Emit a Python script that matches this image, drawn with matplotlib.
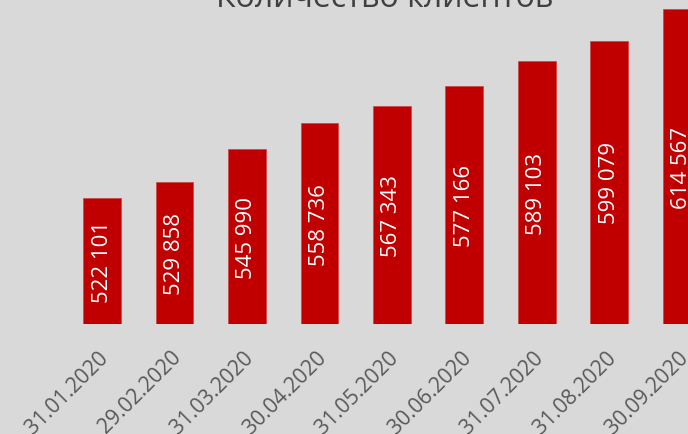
import matplotlib.pyplot as plt
import matplotlib.transforms as mtransforms

dates = ["31.01.2020", "29.02.2020", "31.03.2020", "30.04.2020", "31.05.2020",
         "30.06.2020", "31.07.2020", "31.08.2020", "30.09.2020"]
clients = [522101, 529858, 545990, 558736, 567343, 577166, 589103, 599079, 614567]
title = "Количество клиентов"

bg = "#d9d9d9"
red = "#c00000"

plt.rcParams['font.family'] = ['Open Sans', 'DejaVu Sans']

fig = plt.figure(figsize=(6.88, 4.35), dpi=100, facecolor=bg)
# chart is cropped on the right and top: the axes run past the figure edges
ax = fig.add_axes([0, 110 / 435, 1, 325 / 435])
ax.set_facecolor(bg)

x = list(range(len(dates)))
ax.bar(x, clients, width=0.524, color=red, edgecolor="#d04040", linewidth=0.5)
ax.set_xlim(-1.407, 8.083)
ax.set_ylim(460500, 619500)

for i, v in enumerate(clients):
    label = f"{v:,}".replace(",", " ")
    ax.text(i, (460500 + v) / 2, label, rotation=90, ha="center", va="center",
            color="white", fontsize=16, clip_on=True)

ax.set_xticks(x)
ax.set_xticklabels(dates, rotation=45, ha="right", rotation_mode="anchor",
                   color="#595959", fontsize=15.2)
ax.tick_params(axis="x", length=0, pad=16)
# nudge the date labels a little to the left
shift = mtransforms.ScaledTranslation(-4 / 100, 0, fig.dpi_scale_trans)
for lbl in ax.get_xticklabels():
    lbl.set_transform(lbl.get_transform() + shift)
ax.set_yticks([])
for s in ax.spines.values():
    s.set_visible(False)

fig.text(385 / 688, 1 - 7 / 435, title, ha="center", va="baseline",
         fontsize=23, color="#404040")

fig.savefig("out.png", dpi=100, facecolor=bg)
